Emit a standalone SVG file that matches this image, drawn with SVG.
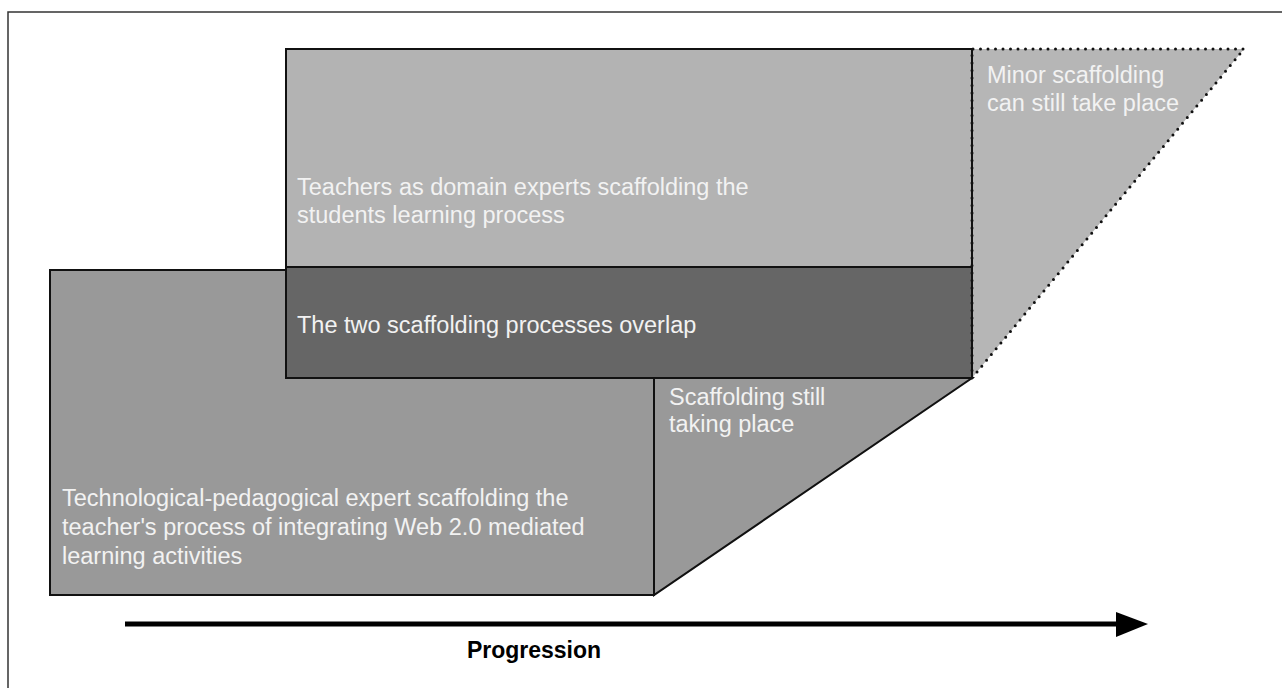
<svg xmlns="http://www.w3.org/2000/svg" width="1282" height="688" viewBox="0 0 1282 688">
  <style>
    .lbl { font-family: "Liberation Sans", Arial, sans-serif; font-size: 23.5px; fill: #f2f2f2; }
    .edge { stroke: #111; stroke-width: 2; stroke-linejoin: miter; }
    .dots { fill: none; stroke: #111; stroke-width: 3; stroke-linecap: round; stroke-dasharray: 0 7.5; }
    .axis { font-family: "Liberation Sans", Arial, sans-serif; font-size: 23px; font-weight: bold; fill: #000; }
  </style>
  <rect width="1282" height="688" fill="#fff"/>
  <!-- frame -->
  <path d="M8 688 V12 H1282" fill="none" stroke="#333" stroke-width="1.5"/>

  <!-- minor scaffolding wedge -->
  <g id="minor">
    <polygon points="972,49 1244,49 972,378" fill="#b6b6b6"/>
    <text class="lbl" x="987" y="83">Minor scaffolding</text>
    <text class="lbl" x="987" y="111">can still take place</text>
  </g>

  <!-- teachers as domain experts -->
  <g id="teachers">
    <rect class="edge" x="286" y="49" width="686" height="218" fill="#b3b3b3"/>
    <text class="lbl" x="297" y="195">Teachers as domain experts scaffolding the</text>
    <text class="lbl" x="297" y="223">students learning process</text>
  </g>

  <!-- technological-pedagogical expert -->
  <g id="tech">
    <rect class="edge" x="50" y="270" width="604" height="325" fill="#999"/>
    <text class="lbl" x="62" y="506">Technological-pedagogical expert scaffolding the</text>
    <text class="lbl" x="62" y="535">teacher's process of integrating Web 2.0 mediated</text>
    <text class="lbl" x="62" y="564">learning activities</text>
  </g>

  <!-- scaffolding still taking place wedge -->
  <g id="still">
    <polygon class="edge" points="654,378 972,378 654,595" fill="#999"/>
    <text class="lbl" x="669" y="405">Scaffolding still</text>
    <text class="lbl" x="669" y="432">taking place</text>
  </g>

  <!-- overlap of the two processes -->
  <g id="overlap">
    <rect class="edge" x="286" y="267" width="686" height="111" fill="#666"/>
    <text class="lbl" x="297" y="333">The two scaffolding processes overlap</text>
  </g>

  <!-- dotted outline of the minor wedge -->
  <g id="connectors">
    <path class="dots" d="M972 378 V49 H1244 L972 378"/>
    <!-- progression axis -->
    <line x1="125" y1="624" x2="1120" y2="624" stroke="#000" stroke-width="5"/>
    <polygon points="1116,612 1148,624 1116,637" fill="#000"/>
  </g>

  <g id="progression">
    <text class="axis" x="534" y="658" text-anchor="middle">Progression</text>
  </g>
</svg>
